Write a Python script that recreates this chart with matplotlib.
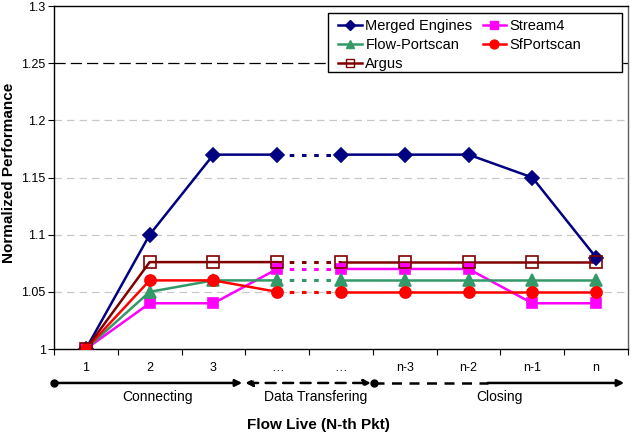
import numpy as np
import matplotlib
matplotlib.use('Agg')
import matplotlib.pyplot as plt
from matplotlib.lines import Line2D
from matplotlib.patches import Rectangle

plt.rcParams['font.family'] = ['Liberation Sans', 'DejaVu Sans']

# categories along the flow life
categories = ['1', '2', '3', '\u2026', '\u2026', 'n-3', 'n-2', 'n-1', 'n']
phases = ['Connecting', 'Data Transfering', 'Closing']

series_names = ['Merged Engines', 'Stream4', 'Flow-Portscan', 'SfPortscan', 'Argus']
merged = [1.0, 1.10, 1.17, 1.17, 1.17, 1.17, 1.17, 1.15, 1.08]
stream4 = [1.0, 1.04, 1.04, 1.07, 1.07, 1.07, 1.07, 1.04, 1.04]
flow_portscan = [1.0, 1.05, 1.06, 1.06, 1.06, 1.06, 1.06, 1.06, 1.06]
sf_portscan = [1.0, 1.06, 1.06, 1.05, 1.05, 1.05, 1.05, 1.05, 1.05]
argus = [1.0, 1.076, 1.076, 1.076, 1.076, 1.076, 1.076, 1.076, 1.076]

y_ticks = [1.0, 1.05, 1.1, 1.15, 1.2, 1.25, 1.3]
y_tick_labels = ['1', '1.05', '1.1', '1.15', '1.2', '1.25', '1.3']

# style per series: color, marker, size, filled
styles = [
    ('#000080', 'D', 7, True),
    ('#FF00FF', 's', 7.5, True),
    ('#339966', '^', 8, True),
    ('#FF0000', 'o', 8, True),
    ('#800000', 's', 8, False),
]

fig = plt.figure(figsize=(6.32, 4.36), dpi=100)
ax = fig.add_axes([54 / 632, 1 - 349 / 436, 574 / 632, 343 / 436])

x = np.arange(len(categories)) + 0.5
data = [merged, stream4, flow_portscan, sf_portscan, argus]

# gridlines
for yv in y_ticks[1:-1]:
    if yv == 1.25:
        ax.axhline(yv, color='black', lw=0.9, ls=(0, (9, 4)), zorder=1)
    else:
        ax.axhline(yv, color='#c8c8c8', lw=0.9, ls=(0, (6, 4)), zorder=1)

handles = []
for vals, (col, mk, ms, filled) in zip(data, styles):
    vals = np.array(vals)
    ax.plot(x[:4], vals[:4], color=col, lw=1.8, zorder=3)
    ax.plot(x[3:5], vals[3:5], color=col, lw=2.2, ls=(0, (1.5, 2.5)), zorder=3)
    ax.plot(x[4:], vals[4:], color=col, lw=1.8, zorder=3)
    fc = col if filled else 'none'
    ax.plot(x, vals, ls='none', marker=mk, ms=ms, mfc=fc, mec=col,
            mew=1.2, zorder=4)
    handles.append(Line2D([], [], color=col, lw=1.8, marker=mk, ms=ms * 0.8,
                          mfc=fc, mec=col))

ax.set_xlim(0, len(categories))
ax.set_ylim(1.0, 1.3)
ax.set_yticks(y_ticks)
ax.set_yticklabels(y_tick_labels, fontsize=9)
ax.set_xticks(np.arange(len(categories) + 1))
ax.set_xticklabels([])
ax.set_xticks(x, minor=True)
ax.set_xticklabels(categories, minor=True, fontsize=9)
ax.tick_params(axis='x', which='major', length=4, direction='out')
ax.tick_params(axis='x', which='minor', length=0, pad=9)
ax.tick_params(axis='y', length=4, direction='out', pad=2)
for sp in ax.spines.values():
    sp.set_linewidth(1.0)
ax.spines['right'].set_color('#606060')

# legend laid out row-wise in two columns, with an Excel-like wide frame
order = [0, 2, 4, 1, 3]
leg = ax.legend([handles[i] for i in order], [series_names[i] for i in order],
                ncol=2, loc='upper left', bbox_to_anchor=(0.488, 0.975),
                fontsize=10.5, frameon=False, borderpad=0.3,
                labelspacing=0.36, handlelength=1.6, handletextpad=0.25,
                columnspacing=0.7, borderaxespad=0)
leg.set_zorder(6)
ax.add_patch(Rectangle((0.4774, 0.8076), 0.9895 - 0.4774, 0.9796 - 0.8076,
                       transform=ax.transAxes, facecolor='white',
                       edgecolor='black', lw=1.0, zorder=5))

# phase arrows under the axis
ya = -0.099
trans = ax.get_xaxis_transform()
arrow_kw = dict(xycoords=trans, textcoords=trans, annotation_clip=False)
ax.annotate('', xy=(2.95, ya), xytext=(0, ya),
            arrowprops=dict(arrowstyle='-|>', color='black', lw=1.8,
                            mutation_scale=10, shrinkA=0, shrinkB=0), **arrow_kw)
ax.annotate('', xy=(4.97, ya), xytext=(3.0, ya),
            arrowprops=dict(arrowstyle='<|-|>', color='black', lw=1.8,
                            ls=(0, (4, 3)), mutation_scale=10,
                            shrinkA=0, shrinkB=0), **arrow_kw)
ax.plot([0, 5.02], [ya, ya], ls='none', marker='o', ms=5, color='black',
        transform=trans, clip_on=False)
ax.plot([5.02, 6.8], [ya, ya], color='black', lw=1.8, ls=(0, (4, 3)),
        transform=trans, clip_on=False)
ax.annotate('', xy=(8.94, ya), xytext=(6.8, ya),
            arrowprops=dict(arrowstyle='-|>', color='black', lw=1.8,
                            mutation_scale=10, shrinkA=0, shrinkB=0), **arrow_kw)

phase_x = [1.62, 4.1, 6.98]
for px, name in zip(phase_x, phases):
    ax.text(px, -0.14, name, transform=trans, ha='center', va='center',
            fontsize=10)

fig.text(318 / 632, 1 - 425 / 436, 'Flow Live (N-th Pkt)', ha='center',
         va='center', fontsize=11, fontweight='bold')
fig.text(9 / 632, 1 - 173 / 436, 'Normalized Performance', ha='center',
         va='center', rotation=90, fontsize=11, fontweight='bold')

fig.savefig('out.png', dpi=100)
